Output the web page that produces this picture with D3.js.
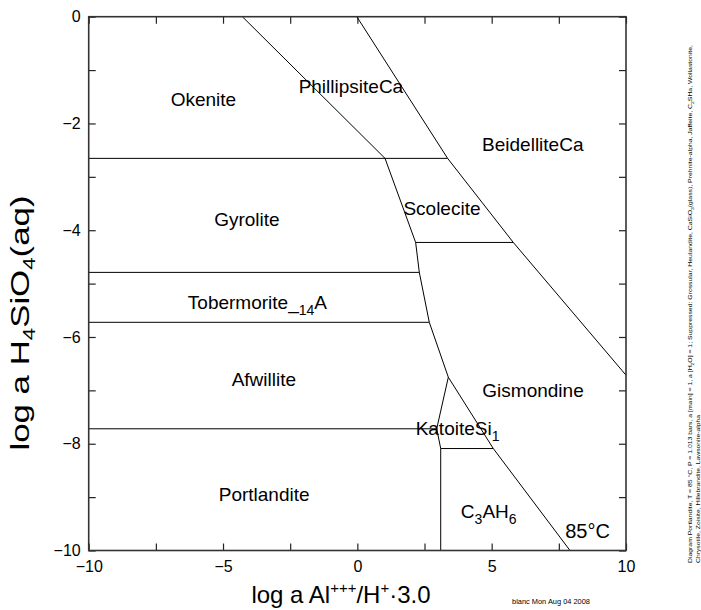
<!DOCTYPE html>
<html><head><meta charset="utf-8">
<script src="https://cdn.jsdelivr.net/npm/d3@7"></script>
<style>
body{margin:0;background:#fff}
svg{display:block;font-family:"Liberation Sans",Arial,Helvetica,sans-serif}
</style>
</head><body>
<svg id="chart" width="701" height="610"></svg>
<script>
// ---------------- data ----------------
const xDomain = [-10, 10];
const yDomain = [-10, 0];
const xTickValues = [-10, -7.5, -5, -2.5, 0, 2.5, 5, 7.5, 10];
const yTickValues = [0, -1, -2, -3, -4, -5, -6, -7, -8, -9, -10];
const xTickLabels = [-10, -5, 0, 5, 10];
const yTickLabels = [0, -2, -4, -6, -8, -10];

// field boundaries (log a Al+++/H+^3, log a H4SiO4)
const boundaries = [
  {between: "Okenite|PhillipsiteCa",      pts: [[-4.28, 0], [1.03, -2.654]]},
  {between: "PhillipsiteCa|BeidelliteCa", pts: [[-0.02, 0], [3.36, -2.654]]},
  {between: "Okenite|Gyrolite",           pts: [[-10, -2.654], [1.03, -2.654]]},
  {between: "PhillipsiteCa|Scolecite",    pts: [[1.03, -2.654], [3.36, -2.654]]},
  {between: "Gyrolite|Scolecite",         pts: [[1.03, -2.654], [2.17, -4.229]]},
  {between: "Scolecite|BeidelliteCa",     pts: [[3.36, -2.654], [5.805, -4.229]]},
  {between: "Scolecite|Gismondine",       pts: [[2.17, -4.229], [5.805, -4.229]]},
  {between: "Gismondine|BeidelliteCa",    pts: [[5.805, -4.229], [10, -6.716]]},
  {between: "Gyrolite|Gismondine",        pts: [[2.17, -4.229], [2.306, -4.79]]},
  {between: "Gyrolite|Tobermorite",       pts: [[-10, -4.79], [2.306, -4.79]]},
  {between: "Tobermorite|Gismondine",     pts: [[2.306, -4.79], [2.678, -5.725]]},
  {between: "Tobermorite|Afwillite",      pts: [[-10, -5.725], [2.678, -5.725]]},
  {between: "Afwillite|Gismondine",       pts: [[2.678, -5.725], [3.386, -6.754]]},
  {between: "Afwillite|KatoiteSi1",       pts: [[3.386, -6.754], [2.954, -7.72]]},
  {between: "Afwillite|Portlandite",      pts: [[-10, -7.72], [2.954, -7.72]]},
  {between: "Portlandite|KatoiteSi1",     pts: [[2.954, -7.72], [3.103, -8.09]]},
  {between: "KatoiteSi1|C3AH6",           pts: [[3.103, -8.09], [5.06, -8.09]]},
  {between: "KatoiteSi1|Gismondine",      pts: [[3.386, -6.754], [5.06, -8.09]]},
  {between: "C3AH6|Gismondine",           pts: [[5.06, -8.09], [7.916, -10]]},
  {between: "Portlandite|C3AH6",          pts: [[3.103, -8.09], [3.103, -10]]}
];

// field labels: text parts [text, isSubscript], anchor in data units
const fieldNames = ["Okenite", "PhillipsiteCa", "BeidelliteCa", "Gyrolite", "Scolecite",
  "Tobermorite_14A", "Afwillite", "Gismondine", "KatoiteSi1", "Portlandite", "C3AH6"];
const fieldParts = [
  [["Okenite", 0]],
  [["PhillipsiteCa", 0]],
  [["BeidelliteCa", 0]],
  [["Gyrolite", 0]],
  [["Scolecite", 0]],
  [["Tobermorite_", 0], ["14", 1], ["A", 0]],
  [["Afwillite", 0]],
  [["Gismondine", 0]],
  [["KatoiteSi", 0], ["1", 1]],
  [["Portlandite", 0]],
  [["C", 0], ["3", 1], ["AH", 0], ["6", 1]]
];
const fieldX = [-5.73, -0.24, 6.53, -4.11, 3.15, -3.72, -3.48, 6.54, 3.73, -3.47, 4.89];
const fieldY = [-1.54, -1.30, -2.38, -3.79, -3.58, -5.34, -6.80, -7.00, -7.71, -8.95, -9.27];

const temperatureLabel = "85°C";
const footerText = "blanc Mon Aug 04 2008";
const noteLine1 = [["Diagram Portlandite, T = 85 °C, P = 1.013 bars, a [main] = 1, a [H", 0], ["2", 1], ["O] = 1; Suppressed: Grossular, Heulandite, CaSiO", 0], ["3", 1], ["(glass), Prehnite-alpha, Jaffeite, C", 0], ["2", 1], ["SHa, Wollastonite,", 0]];
const noteLine2 = [["Chrysotile, Zoisite, Hillebrandite, Lawsonite-alpha", 0]];

// ---------------- drawing ----------------
const svg = d3.select("#chart");
const L = 88.7, R = 626, T = 16.7, B = 550.5;
const x = d3.scaleLinear().domain(xDomain).range([L, R]);
const y = d3.scaleLinear().domain(yDomain).range([B, T]);
const fmt = d => d3.format("d")(d).replace("-", "\u2212");

function styleAxis(g) {
  g.select(".domain").remove();
  g.selectAll(".tick line").attr("stroke", "#222").attr("stroke-width", 1.2);
  g.selectAll(".tick text").attr("fill", "#000").attr("font-size", 16)
    .attr("font-family", "Liberation Sans, Arial, sans-serif");
}

svg.append("g").attr("transform", `translate(0,${B})`)
  .call(d3.axisBottom(x).tickValues(xTickValues).tickSize(-7).tickPadding(10)
    .tickFormat(d => xTickLabels.includes(d) ? fmt(d) : ""))
  .call(styleAxis);
svg.append("g").attr("transform", `translate(0,${T})`)
  .call(d3.axisTop(x).tickValues(xTickValues).tickSize(-7).tickFormat(""))
  .call(styleAxis);
svg.append("g").attr("transform", `translate(${L},0)`)
  .call(d3.axisLeft(y).tickValues(yTickValues).tickSize(-7).tickPadding(8)
    .tickFormat(d => yTickLabels.includes(d) ? fmt(d) : ""))
  .call(styleAxis);
svg.append("g").attr("transform", `translate(${R},0)`)
  .call(d3.axisRight(y).tickValues(yTickValues).tickSize(-7).tickFormat(""))
  .call(styleAxis);

// boundaries
const line = d3.line().x(d => x(d[0])).y(d => y(d[1]));
svg.append("g").selectAll("path").data(boundaries).join("path")
  .attr("d", d => line(d.pts)).attr("fill", "none")
  .attr("stroke", "#000").attr("stroke-width", 1);

// frame
svg.append("rect").attr("x", L).attr("y", T).attr("width", R - L).attr("height", B - T)
  .attr("fill", "none").attr("stroke", "#333").attr("stroke-width", 1.6);

// rich text helper
function rich(sel, parts, size, subSize, shift) {
  let prevSub = 0;
  parts.forEach(([t, s]) => {
    const sp = sel.append("tspan").text(t);
    if (s === 1) sp.attr("font-size", subSize);
    if (s === 2) sp.attr("font-size", subSize);
    const off = s === 1 ? shift : (s === 2 ? -shift : 0);
    sp.attr("dy", off - prevSub);
    prevSub = off;
  });
}

// field labels
fieldNames.forEach((n, i) => {
  const t = svg.append("text").attr("x", x(fieldX[i])).attr("y", y(fieldY[i]) + 6.8)
    .attr("text-anchor", "middle").attr("font-size", 19).attr("fill", "#000");
  rich(t, fieldParts[i], 19, 14, 6);
});

// temperature
svg.append("text").attr("x", 587.5).attr("y", 537.5).attr("text-anchor", "middle")
  .attr("font-size", 20).text(temperatureLabel);

// x axis title
const xt = svg.append("text").attr("x", 341).attr("y", 603).attr("text-anchor", "middle")
  .attr("font-size", 24);
rich(xt, [["log a Al", 0], ["+++", 2], ["/H", 0], ["+", 2], ["\u00b73.0", 0]], 24, 15, 10);

// y axis title
const yt = svg.append("text").attr("transform", "translate(29,323) rotate(-90)")
  .attr("text-anchor", "middle").attr("font-size", 25)
  .attr("textLength", 255).attr("lengthAdjust", "spacingAndGlyphs");
rich(yt, [["log a H", 0], ["4", 1], ["SiO", 0], ["4", 1], ["(aq)", 0]], 25, 16, 6);

// side note
const n1 = svg.append("text").attr("transform", "translate(692,563) rotate(-90)")
  .attr("font-size", 5.5).attr("textLength", 518).attr("lengthAdjust", "spacingAndGlyphs");
rich(n1, noteLine1, 5.5, 4, 1.5);
const n2 = svg.append("text").attr("transform", "translate(700,563) rotate(-90)")
  .attr("font-size", 5.5).attr("textLength", 148).attr("lengthAdjust", "spacingAndGlyphs");
rich(n2, noteLine2, 5.5, 4, 1.5);

// footer
svg.append("text").attr("x", 512).attr("y", 604).attr("font-size", 7.5).attr("fill", "#000")
  .attr("textLength", 78).attr("lengthAdjust", "spacingAndGlyphs").text(footerText);
</script>
</body></html>
